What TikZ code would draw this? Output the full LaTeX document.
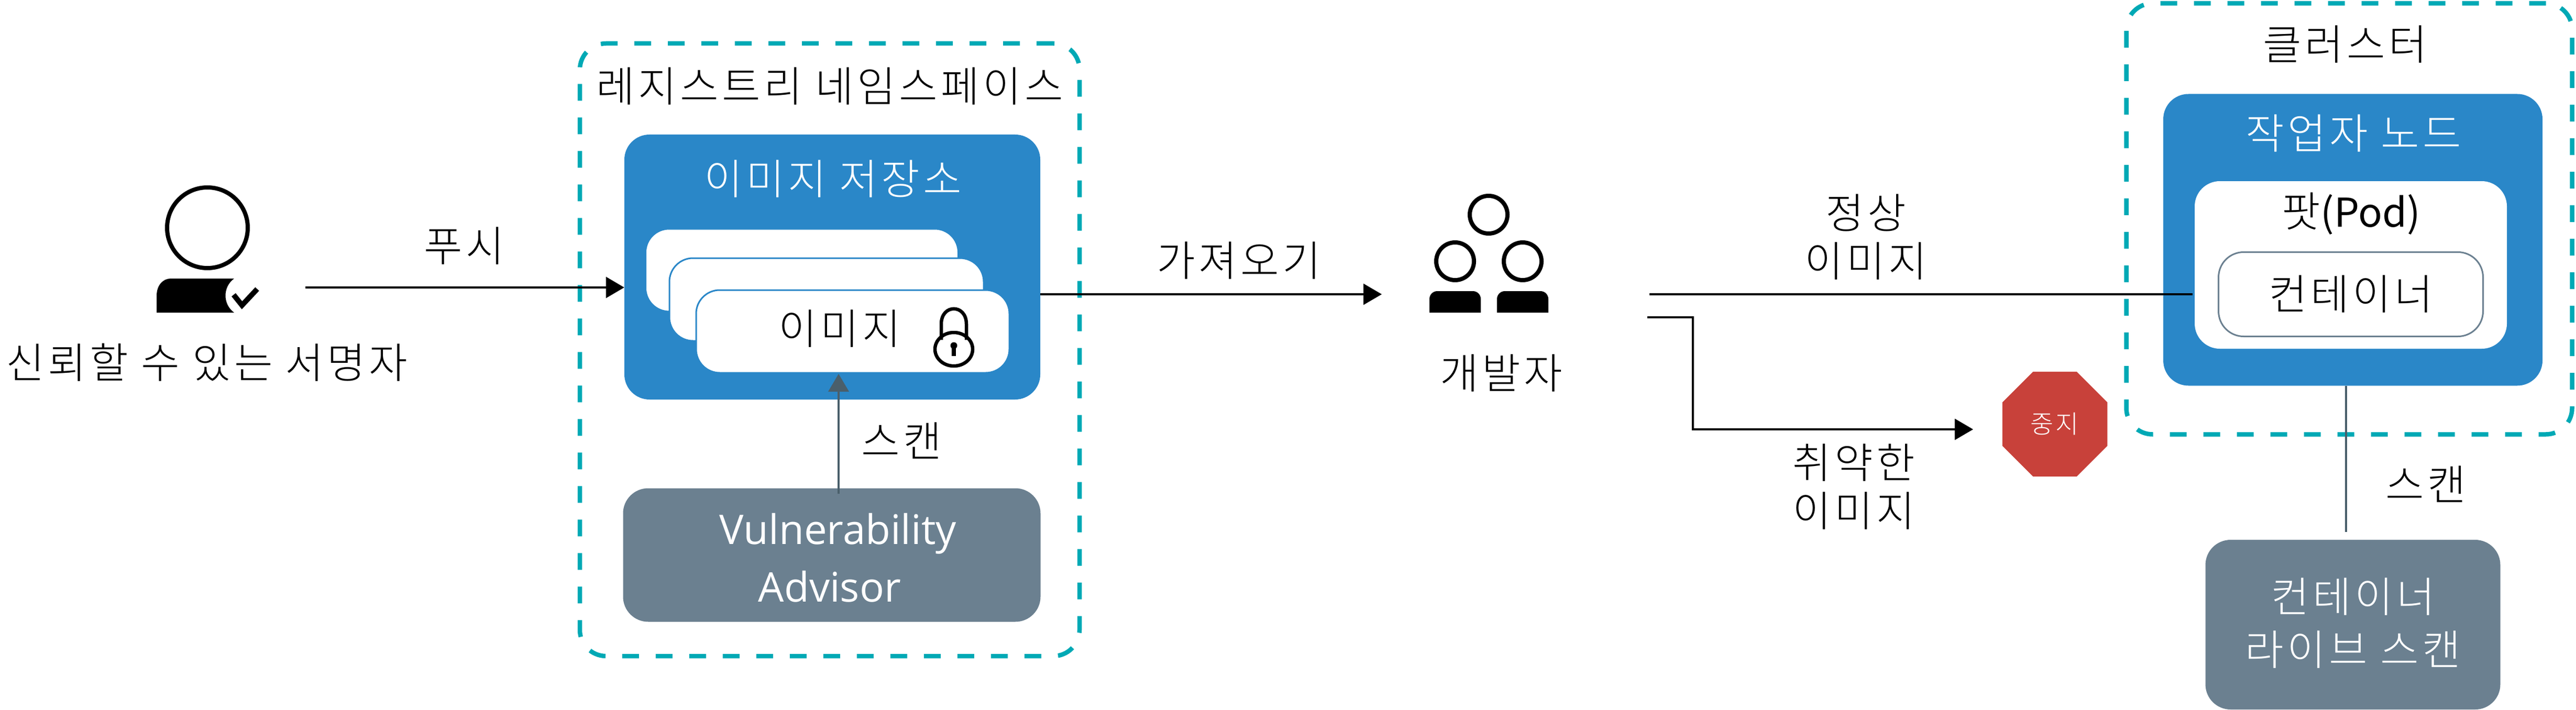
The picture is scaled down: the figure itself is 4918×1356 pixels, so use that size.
\documentclass[tikz,border=0pt]{standalone}
\usepackage{fontspec}
\setmainfont{Noto Sans CJK KR}[UprightFont=* Light, LetterSpace=8]
\newfontfamily\podfont{Noto Sans CJK KR}
\newfontfamily\plexlike{Open Sans}
\usetikzlibrary{arrows.meta,shapes.geometric}
\definecolor{boxblue}{HTML}{2A87C8}
\definecolor{slatebox}{HTML}{6B8090}
\definecolor{slateline}{HTML}{4A5F6B}
\definecolor{dashteal}{HTML}{00A9B5}
\definecolor{stopred}{HTML}{C8413A}

\tikzset{
    lbl/.style = {inner sep=0, align=center, font=\fontsize{80pt}{92pt}\selectfont},
    box/.style = {inner sep=0, align=center, rounded corners=48pt, font=\fontsize{80pt}{92pt}\selectfont},
    group/.style = {box, draw=dashteal, line width=8.5pt, dash pattern=on 32pt off 32pt, rounded corners=50pt},
    bluebox/.style = {box, fill=boxblue},
    greybox/.style = {box, fill=slatebox},
    card/.style = {box, fill=white, draw=boxblue, line width=3pt, rounded corners=45pt},
    flow/.style = {line width=4pt, -{Triangle[length=35pt,width=40pt]}},
    scanline/.style = {draw=slateline, line width=4pt},
    signer/.pic = {
        \draw[line width=8pt] (0,0) circle (77);
        \fill (-97,162) -- (-97,130) .. controls (-97,110) and (-85,97) .. (-70,97) -- (51,97)
            .. controls (29,113) and (29,146) .. (51,162) -- cycle;
        \draw[line width=10pt] (50,128) -- (66,148) -- (95,117);
    },
    developer/.pic = {
        \foreach \a/\b in {0/0,-64/89,65/89} {
            \draw[line width=8pt] (\a,\b) circle (36);
        };
        \foreach \a in {-113,16} {
            \fill (\a,187) [rounded corners=15pt] -- (\a,146) -- (\a+98,146) [sharp corners] -- (\a+98,187) -- cycle;
        };
    },
    padlock/.pic = {
        \draw[line width=6.5pt] (0,23) ellipse (36 and 32);
        \draw[line width=6.5pt] (-24,5) -- (-24,-25) .. controls (-24,-64) and (24,-64) .. (24,-25) -- (24,5);
        \fill (0,16) circle (6.5);
        \fill (-4,16) rectangle (4,36);
    }
}

\begin{document}
\begin{tikzpicture}[x=1pt, y=-1pt]
    \useasboundingbox (0,0) rectangle (4918,1356);

    % registry side
    \node[group, minimum width=954pt, minimum height=1170pt] (registry) at (1584,668) {};
    \node[lbl] (registrytitle) at (1584,165) {레지스트리 네임스페이스};
    \node[bluebox, minimum width=794pt, minimum height=506pt] (repo) at (1589,510) {};
    \node[lbl, text=white] (repotitle) at (1590,342) {이미지 저장소};
    \node[card, minimum width=597pt, minimum height=158pt] (cardback) at (1531,516) {};
    \node[card, minimum width=600pt, minimum height=158pt] (cardmid) at (1578,572) {};
    \node[card, minimum width=598pt, minimum height=158pt] (cardfront) at (1628,633) {};
    \node[lbl] (image) at (1603,628) {이미지};
    \draw (1821,644) pic {padlock};
    \node[greybox, minimum width=797pt, minimum height=255pt] (advisor) at (1588,1060) {};
    \node[lbl, text=white, font=\plexlike\fontsize{78pt}{110pt}\selectfont] (advisortext) at (1588,1065)
        {\hspace*{24pt}Vulnerability\\Advisor\hspace*{8pt}};
    \node[lbl] (scanleft) at (1721,842) {스캔};

    % people
    \draw (396,435) pic {signer};
    \node[lbl] (signername) at (395,692) {신뢰할 수 있는 서명자};
    \node[lbl] (pushlabel) at (886,470) {푸시};
    \draw (2842,410) pic {developer};
    \node[lbl] (developername) at (2866,713) {개발자};
    \node[lbl] (pulllabel) at (2365,497) {가져오기};

    % cluster side
    \node[group, minimum width=851pt, minimum height=823pt] (cluster) at (4485,418) {};
    \node[lbl] (clustertitle) at (4477,85) {클러스터};
    \node[bluebox, minimum width=724pt, minimum height=557pt] (worker) at (4492,458) {};
    \node[lbl, text=white] (workertitle) at (4493,255) {작업자 노드};
    \node[box, fill=white, minimum width=596pt, minimum height=320pt] (pod) at (4488,506) {};
    \node[lbl] (podtitle) at (4489,408) {팟{\podfont\fontsize{76pt}{92pt}\selectfont(Pod)}};
    \node[box, fill=white, draw=slatebox, line width=3pt, minimum width=505pt, minimum height=161pt] (container) at (4488,562) {컨테이너};
    \node[greybox, minimum width=563pt, minimum height=324pt] (livescan) at (4492,1193) {};
    \node[lbl, text=white, font=\fontsize{80pt}{101pt}\selectfont] (livetext) at (4492,1190) {컨테이너\\라이브 스캔};
    \node[lbl] (scanright) at (4631,925) {스캔};

    \node[lbl] (oklabel) at (3562,453) {정상\\이미지};
    \node[lbl] (badlabel) at (3539,930) {취약한\\이미지};
    \node[regular polygon, regular polygon sides=8, fill=stopred, text=white,
        inner sep=0, minimum size=217pt, font=\fontsize{48pt}{48pt}\selectfont] (stop) at (3923,810) {중지};

    % connectors
    \coordinate (pushstart) at (583,549);
    \coordinate (pullend) at (2638,562);
    \coordinate (okstart) at (3149,562);
    \coordinate (okend) at (4186,562);
    \coordinate (badstart) at (3145,606);
    \coordinate (badend) at (3767,820);
    \coordinate (scantip) at (1601,714);
    \coordinate (scanbase) at (1601,943);
    \coordinate (livetop) at (4479,737);
    \coordinate (livebase) at (4479,1016);

    \draw[flow] (pushstart) -- (repo.west |- pushstart);
    \draw[flow, line width=3.5pt] (repo.east |- pullend) -- (pullend);
    \draw[line width=3.5pt] (okstart) -- (okend);
    \draw[flow, line width=3.5pt] (badstart) -| (3232,820) -- (badend);
    \draw[scanline, -{Triangle[length=34pt,width=39pt]}] (scanbase) -- (scantip);
    \draw[scanline] (livetop) -- (livebase);
\end{tikzpicture}
\end{document}
